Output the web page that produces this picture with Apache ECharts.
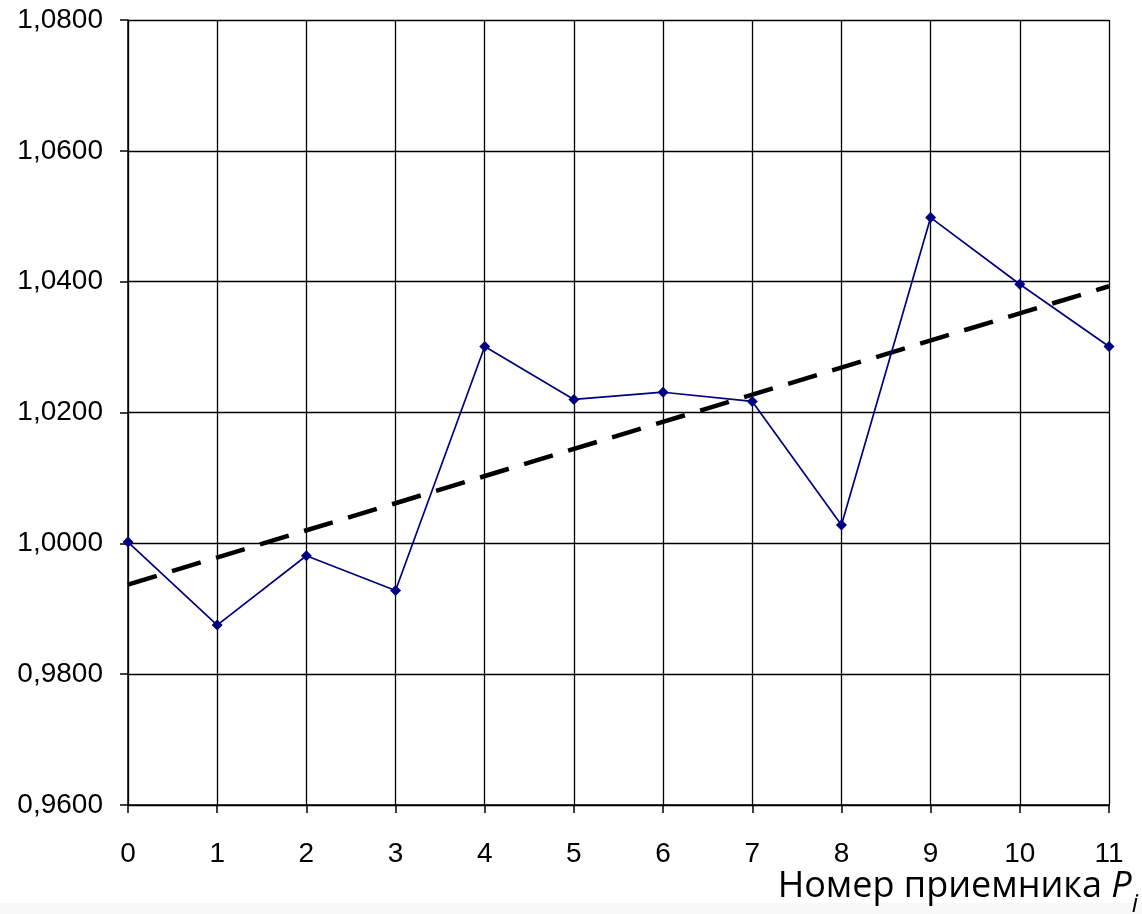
<!DOCTYPE html>
<html>
<head>
<meta charset="utf-8">
<script src="https://cdn.jsdelivr.net/npm/echarts@6/dist/echarts.min.js"></script>
<style>
  html, body { margin: 0; padding: 0; background: #fff; }
  #chart { width: 1142px; height: 914px; }
</style>
</head>
<body>
<div id="chart"></div>
<script>
// номера приемников и измеренные значения
const receivers = [0, 1, 2, 3, 4, 5, 6, 7, 8, 9, 10, 11];
const values = [1.0002, 0.9875, 0.9981, 0.9928, 1.0301, 1.0220, 1.0231, 1.0217, 1.0028, 1.0498, 1.0396, 1.0301];
// линия тренда (концы)
const trendX = [0, 11];
const trendY = [0.9937, 1.0393];
const yTicks = [0.96, 0.98, 1.00, 1.02, 1.04, 1.06, 1.08];

const myChart = echarts.init(document.getElementById("chart"));

const option = {
  animation: false,
  backgroundColor: "#ffffff",
  grid: { left: 128, right: 33, top: 20, bottom: 109, containLabel: false, outerBoundsMode: "none" },
  graphic: [
    {
      // светлая полоса внизу картинки
      type: "rect",
      shape: { x: 0, y: 903, width: 1142, height: 11 },
      style: { fill: "#f8f8f8" },
      silent: true,
      z: -10,
    },
  ],
  xAxis: {
    type: "value",
    min: 0,
    max: 11,
    interval: 1,
    name: "{n|Номер приемника }{p|P}{i|i}",
    nameLocation: "end",
    nameGap: 29,
    nameTextStyle: {
      align: "right",
      verticalAlign: "top",
      padding: [64, 0, 0, 0],
      rich: {
        n: { fontFamily: "Open Sans", fontSize: 36, color: "#000" },
        p: { fontFamily: "Open Sans", fontSize: 36, fontStyle: "italic", color: "#000" },
        i: { fontFamily: "Open Sans", fontSize: 25, fontStyle: "italic", color: "#000", verticalAlign: "bottom", padding: [0, 0, -12, 0] },
      },
    },
    axisLine: { show: true, onZero: false, lineStyle: { color: "#000", width: 1.5 } },
    axisTick: { show: true, length: 8, lineStyle: { color: "#000", width: 1.5 } },
    axisLabel: {
      color: "#000",
      fontFamily: "Liberation Sans",
      fontSize: 28,
      margin: 35,
    },
    splitLine: { show: true, lineStyle: { color: "#000", width: 1.3 } },
  },
  yAxis: {
    type: "value",
    min: yTicks[0],
    max: yTicks[yTicks.length - 1],
    interval: 0.02,
    axisLine: { show: true, lineStyle: { color: "#000", width: 1.5 } },
    axisTick: { show: true, length: 8, lineStyle: { color: "#000", width: 1.5 } },
    axisLabel: {
      color: "#000",
      fontFamily: "Liberation Sans",
      fontSize: 28,
      margin: 25,
      formatter: (v) => v.toFixed(4).replace(".", ","),
    },
    splitLine: { show: true, lineStyle: { color: "#000", width: 1.3 } },
  },
  series: [
    {
      type: "line",
      data: trendX.map((x, k) => [x, trendY[k]]),
      symbol: "none",
      lineStyle: { color: "#000", width: 4.5, type: [30, 16] },
      z: 3,
    },
    {
      type: "line",
      data: receivers.map((x, k) => [x, values[k]]),
      symbol: "diamond",
      symbolSize: 11,
      itemStyle: { color: "#000080" },
      lineStyle: { color: "#000080", width: 1.7 },
      z: 4,
    },
  ],
};

myChart.setOption(option, true);
</script>
</body>
</html>
